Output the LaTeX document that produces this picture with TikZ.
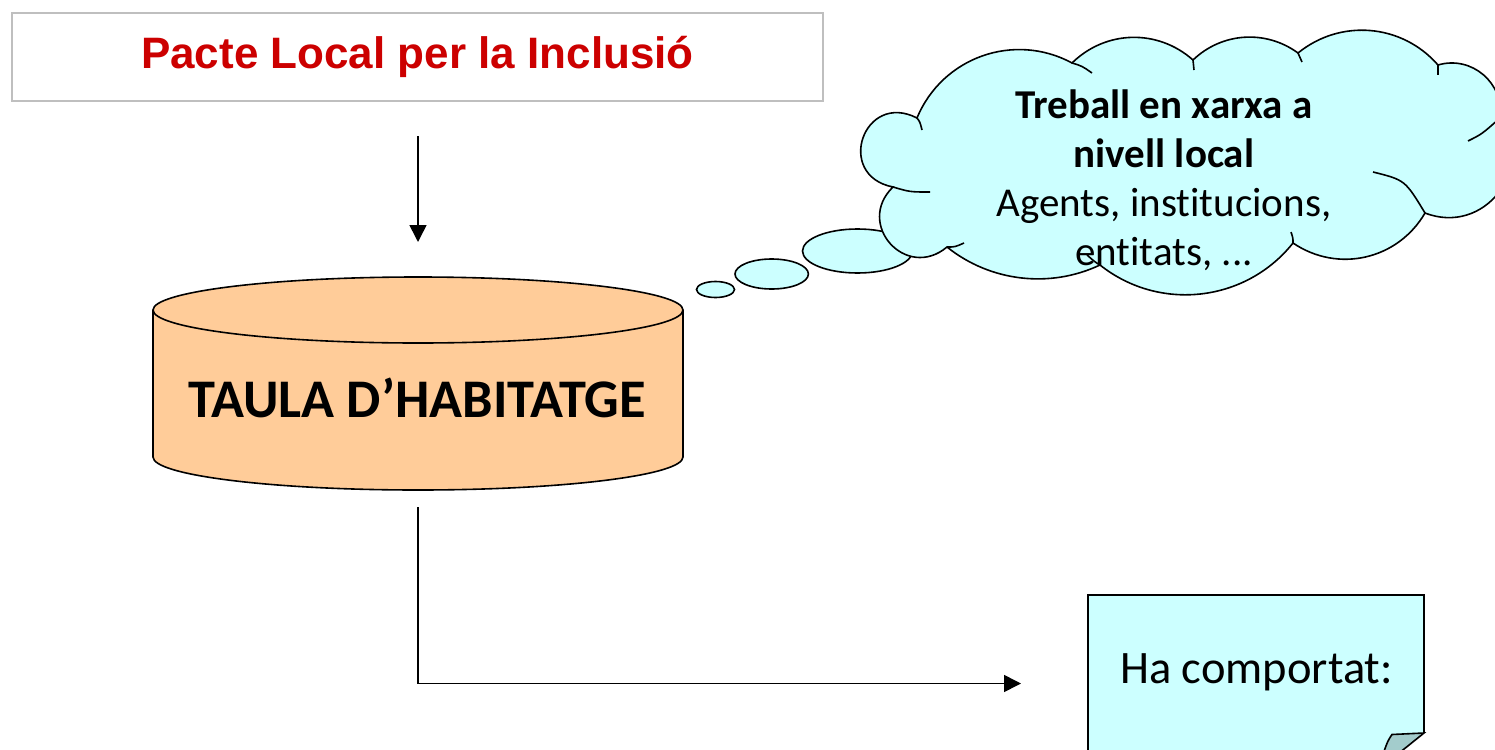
\documentclass[tikz,border=0pt]{standalone}
\usepackage{fontspec}
\setmainfont{Carlito}[Ligatures=NoCommon]
\newfontfamily\arialfont{Liberation Sans}
\usetikzlibrary{calc,arrows.meta}
\definecolor{titlered}{HTML}{CC0000}
\definecolor{boxgray}{HTML}{BFBFBF}
\definecolor{cloudfill}{HTML}{CCFFFF}
\definecolor{cylfill}{HTML}{FFCC99}
\definecolor{foldfill}{HTML}{A3CCCC}
\begin{document}
\begin{tikzpicture}[x=0.5pt,y=-0.5pt,
  outline/.style={draw=black,line width=0.8pt},
  inner/.style={draw=black,line width=0.8pt},
  conn/.style={line width=0.8pt,-{Triangle[length=8.5pt,width=8.5pt]}},
  titlebox/.style={draw=boxgray,line width=1pt,fill=white,minimum width=405.5pt,minimum height=44pt,
    inner sep=0pt,text height=15.8pt,text depth=4.5pt,
    font=\arialfont\bfseries\fontsize{22pt}{26pt}\selectfont,text=titlered},
  cyltext/.style={anchor=base,inner sep=0pt,font=\bfseries\fontsize{27.2pt}{32pt}\selectfont},
  cloudtext/.style={anchor=base,inner sep=0pt,font=\fontsize{20.5pt}{24.5pt}\selectfont},
  notetext/.style={anchor=base,inner sep=0pt,font=\fontsize{23.25pt}{28pt}\selectfont}]
\useasboundingbox (0,0) rectangle (1495,750);
\clip (0,0) rectangle (1495,750);

% title
\node[titlebox] (title) at (417.5,57) {Pacte Local per la Inclusió};

% cylinder
\fill[cylfill] (153,310) -- (153,457) arc[start angle=180,end angle=0,x radius=265,y radius=33] -- (683,310) -- cycle;
\draw[outline] (153,310) -- (153,457) arc[start angle=180,end angle=0,x radius=265,y radius=33] -- (683,310);
\filldraw[fill=cylfill,outline] (418,310) ellipse[x radius=265,y radius=33];
\node[cyltext] (taula) at (417,417) {TAULA D’HABITATGE};

% thought bubbles
\filldraw[fill=cloudfill,outline] (715.5,289.5) ellipse[x radius=19,y radius=8];
\filldraw[fill=cloudfill,outline] (771.7,274) ellipse[x radius=36.7,y radius=15];
\filldraw[fill=cloudfill,outline] (857.5,251) ellipse[x radius=55,y radius=22];

% cloud
\coordinate (C1) at (917,118);
\coordinate (C2) at (1072,63);
\coordinate (C3) at (1193,60);
\coordinate (C4) at (1298,53);
\coordinate (C5) at (1438,65);
\coordinate (C6) at (1500,118);
\coordinate (C7) at (1425,213);
\coordinate (C8) at (1293,243);
\coordinate (C9) at (1100,265);
\coordinate (C10) at (947,247);
\coordinate (C11) at (893,187);
\filldraw[fill=cloudfill,outline]
  (C1) .. controls ($(C1)!0.40!48:(C2)$) and ($(C2)!0.40!-48:(C1)$) .. (C2)
  .. controls ($(C2)!0.39!43:(C3)$) and ($(C3)!0.39!-43:(C2)$) .. (C3)
  .. controls ($(C3)!0.38!40:(C4)$) and ($(C4)!0.38!-40:(C3)$) .. (C4)
  .. controls ($(C4)!0.39!44:(C5)$) and ($(C5)!0.39!-44:(C4)$) .. (C5)
  .. controls ($(C5)!0.43!57:(C6)$) and ($(C6)!0.43!-57:(C5)$) .. (C6)
  .. controls ($(C6)!0.52!73:(C7)$) and ($(C7)!0.52!-73:(C6)$) .. (C7)
  .. controls ($(C7)!0.40!47:(C8)$) and ($(C8)!0.40!-47:(C7)$) .. (C8)
  .. controls ($(C8)!0.39!45:(C9)$) and ($(C9)!0.39!-45:(C8)$) .. (C9)
  .. controls ($(C9)!0.36!32:(C10)$) and ($(C10)!0.36!-32:(C9)$) .. (C10)
  .. controls ($(C10)!0.66!88:(C11)$) and ($(C11)!0.66!-88:(C10)$) .. (C11)
  .. controls ($(C11)!0.82!98:(C1)$) and ($(C1)!0.82!-98:(C11)$) .. (C1)
  -- cycle;
% inner arcs of the cloud
\draw[inner] (C1) .. controls (920,122) .. (922,130);
\draw[inner] (C2) .. controls (1082,66) .. (1092,73);
\draw[inner] (C3) .. controls (1194,65) .. (1194,70);
\draw[inner] (C4) .. controls (1300,57) .. (1302,62);
\draw[inner] (C5) -- (1438,75);
\draw[inner] (C6) .. controls (1482,134) .. (1468,141);
\draw[inner] (C7) .. controls (1405,180) .. (1373,172);
\draw[inner] (C8) .. controls (1293,238) .. (1291,232);
\draw[inner] (C9) .. controls (1095,262) .. (1087,255);
\draw[inner] (C10) .. controls (955,247) .. (964,243);
\draw[inner] (C11) .. controls (910,192) .. (930,192);
\node[cloudtext] (xarxa) at (1164,118.3) {\begin{tabular}[t]{@{}c@{}}\textbf{Treball en xarxa a}\\\textbf{nivell local}\\Agents, institucions,\\entitats, ...\end{tabular}};

% note
\fill[cloudfill] (1088,595) -- (1424,595) -- (1424,733) -- (1392,734.5) .. controls (1387,742) .. (1378,770) -- (1088,770) -- cycle;
\draw[outline] (1088,770) -- (1088,595) -- (1424,595) -- (1424,733);
\filldraw[fill=foldfill,outline] (1424,733) -- (1392,734.5) .. controls (1387,742) .. (1378,770) -- cycle;
\node[notetext] (nota) at (1256.6,683.3) {Ha comportat:};

% connectors
\coordinate (a1s) at (418,136);
\coordinate (a1e) at (418,242);
\draw[conn] (a1s) -- (a1e);
\coordinate (a2s) at (418,507);
\coordinate (a2e) at (1021,683.5);
\draw[conn] (a2s) |- (a2e);
\end{tikzpicture}
\end{document}
